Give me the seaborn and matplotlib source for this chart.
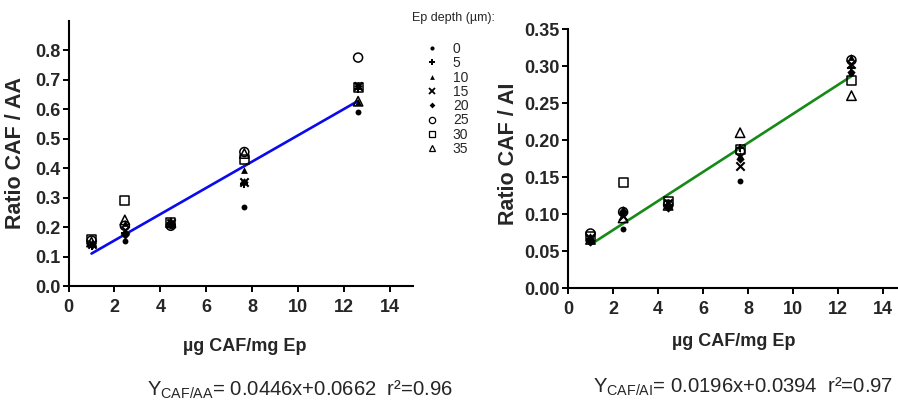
import matplotlib
matplotlib.use("Agg")
import matplotlib.pyplot as plt
from matplotlib.lines import Line2D
import numpy as np
import pandas as pd
import seaborn as sns

# caffeine load per epidermis mass (x positions of the five groups)
caf_load = [1.0, 2.45, 4.45, 7.65, 12.6]

# epidermis depth (µm) for each series
depths = [0, 5, 10, 15, 20, 25, 30, 35]

# ratio CAF / AA for each depth, one value per caffeine load
ratio_aa = {
    0:  [0.140, 0.155, 0.205, 0.270, 0.590],
    5:  [0.135, 0.180, 0.210, 0.345, 0.670],
    10: [0.150, 0.215, 0.215, 0.395, 0.625],
    15: [0.145, 0.190, 0.215, 0.355, 0.680],
    20: [0.140, 0.175, 0.210, 0.355, 0.680],
    25: [0.155, 0.205, 0.205, 0.455, 0.775],
    30: [0.160, 0.290, 0.215, 0.430, 0.672],
    35: [0.150, 0.225, 0.215, 0.450, 0.627],
}

# ratio CAF / AI for each depth
ratio_ai = {
    0:  [0.068, 0.080, 0.110, 0.145, 0.290],
    5:  [0.066, 0.100, 0.113, 0.190, 0.297],
    10: [0.070, 0.107, 0.117, 0.180, 0.312],
    15: [0.068, 0.098, 0.115, 0.165, 0.303],
    20: [0.062, 0.105, 0.108, 0.175, 0.292],
    25: [0.074, 0.103, 0.113, 0.185, 0.308],
    30: [0.070, 0.143, 0.117, 0.187, 0.280],
    35: [0.066, 0.095, 0.112, 0.210, 0.260],
}

# linear fits: slope, intercept, r²
fit_aa = (0.0446, 0.0662, 0.96)
fit_ai = (0.0196, 0.0394, 0.97)

sns.set_style("ticks")
FONT = ["Liberation Sans", "DejaVu Sans"]
plt.rcParams["font.family"] = FONT
plt.rcParams["mathtext.fontset"] = "custom"
plt.rcParams["mathtext.rm"] = "Liberation Sans"
plt.rcParams["mathtext.default"] = "regular"

# marker style per depth: (marker, filled, size in points^2, line width)
styles = {
    0:  ("o", True, 18, 0.0),
    5:  ("P", True, 30, 0.0),
    10: ("^", True, 24, 0.0),
    15: ("x", False, 36, 1.5),
    20: ("D", True, 18, 0.0),
    25: ("o", False, 42, 1.1),
    30: ("s", False, 42, 1.1),
    35: ("^", False, 46, 1.1),
}


def long_table(values):
    rows = []
    for d in depths:
        for x, y in zip(caf_load, values[d]):
            rows.append({"load": x, "ratio": y, "depth": d})
    return pd.DataFrame(rows)


def draw_points(ax, df):
    for d in depths:
        sub = df[df["depth"] == d]
        m, filled, s, lw = styles[d]
        if m == "x":
            sns.scatterplot(data=sub, x="load", y="ratio", ax=ax, marker="x",
                            color="black", s=s, linewidth=lw, zorder=3, legend=False)
        elif filled:
            sns.scatterplot(data=sub, x="load", y="ratio", ax=ax, marker=m,
                            color="black", edgecolor="black", s=s, linewidth=0,
                            zorder=3, legend=False)
        else:
            sns.scatterplot(data=sub, x="load", y="ratio", ax=ax, marker=m,
                            color="black", facecolor="none", edgecolor="black",
                            s=s, linewidth=lw, zorder=3, legend=False)


def draw_fit(ax, fit, color):
    slope, icept, _ = fit
    xs = np.array([min(caf_load), max(caf_load)])
    fit_df = pd.DataFrame({"load": xs, "ratio": slope * xs + icept})
    sns.lineplot(data=fit_df, x="load", y="ratio", ax=ax, color=color,
                 linewidth=1.9, zorder=2)


def style_axes(ax, ylim, yticks, yfmt, ylabel):
    ax.set_xlim(0, 15)
    ax.set_ylim(*ylim)
    ax.set_xticks(range(0, 16, 2))
    ax.set_yticks(yticks)
    ax.set_yticklabels([yfmt.format(v) for v in yticks])
    for side in ("top", "right"):
        ax.spines[side].set_visible(False)
    for side in ("left", "bottom"):
        ax.spines[side].set_linewidth(1.5)
        ax.spines[side].set_color("black")
    ax.tick_params(axis="both", direction="out", length=4.5, width=1.4,
                   color="black", labelsize=13)
    ax.tick_params(axis="x", pad=5)
    ax.tick_params(axis="y", pad=1.5)
    for lab in ax.get_xticklabels() + ax.get_yticklabels():
        lab.set_fontweight("bold")
    ax.set_xlabel("µg CAF/mg Ep", fontsize=13, fontweight="bold")
    ax.set_ylabel(ylabel, fontsize=15.5, fontweight="bold")


fig = plt.figure(figsize=(8.98, 4.08), dpi=100)
fig.patch.set_facecolor("white")

ax1 = fig.add_axes([0.0763, 0.2983, 0.3839, 0.6510])
ax2 = fig.add_axes([0.6325, 0.2934, 0.3758, 0.6355])

# left panel: CAF / AA
draw_fit(ax1, fit_aa, "#0a0aee")
draw_points(ax1, long_table(ratio_aa))
style_axes(ax1, (0, 0.9), np.round(np.arange(0, 0.81, 0.1), 2), "{:.1f}",
           "Ratio CAF / AA")
ax1.xaxis.set_label_coords(0.51, -0.196)
ax1.yaxis.set_label_coords(-0.124, 0.5)

# right panel: CAF / AI
draw_fit(ax2, fit_ai, "#168a16")
draw_points(ax2, long_table(ratio_ai))
style_axes(ax2, (0, 0.35), np.round(np.arange(0, 0.351, 0.05), 2), "{:.2f}",
           "Ratio CAF / AI")
ax2.xaxis.set_label_coords(0.49, -0.172)
ax2.yaxis.set_label_coords(-0.146, 0.52)

# fit equations under each panel
fig.text(147 / 898, 1 - 390 / 408,
         "Y$_{CAF/AA}$= %.4fx+%.4f  r²=%.2f" % fit_aa,
         fontsize=14.6, ha="left", va="center")
fig.text(593 / 898, 1 - 387 / 408,
         "Y$_{CAF/AI}$= %.4fx+%.4f  r²=%.2f" % fit_ai,
         fontsize=14.6, ha="left", va="center")

# depth legend between the panels
handles = []
for d in depths:
    m, filled, s, lw = styles[d]
    ms = np.sqrt(s) * 0.7
    if m == "x":
        h = Line2D([], [], linestyle="none", marker="x", color="black",
                   markersize=ms, markeredgewidth=1.3)
    elif filled:
        h = Line2D([], [], linestyle="none", marker=m, color="black",
                   markerfacecolor="black", markeredgewidth=0, markersize=ms)
    else:
        h = Line2D([], [], linestyle="none", marker=m, color="black",
                   markerfacecolor="none", markeredgewidth=0.9, markersize=ms)
    handles.append(h)

fig.text(412 / 898, 1 - 18 / 408, "Ep depth (µm):", fontsize=9,
         ha="left", va="center")
leg = fig.legend(handles, [str(d) for d in depths], loc="upper left",
                 bbox_to_anchor=(425 / 898, 1 - 42 / 408), frameon=False,
                 prop={"size": 10}, handlelength=1.0,
                 handletextpad=1.0, labelspacing=0.02, borderpad=0,
                 borderaxespad=0)

fig.savefig("out.png", dpi=100, facecolor="white")
